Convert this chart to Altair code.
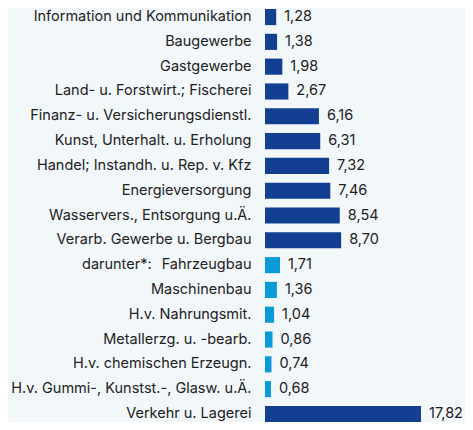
import altair as alt
import pandas as pd

categories = [
    "Information und Kommunikation",
    "Baugewerbe",
    "Gastgewerbe",
    "Land- u. Forstwirt.; Fischerei",
    "Finanz- u. Versicherungsdienstl.",
    "Kunst, Unterhalt. u. Erholung",
    "Handel; Instandh. u. Rep. v. Kfz",
    "Energieversorgung",
    "Wasservers., Entsorgung u.Ä.",
    "Verarb. Gewerbe u. Bergbau",
    "Fahrzeugbau",
    "Maschinenbau",
    "H.v. Nahrungsmit.",
    "Metallerzg. u. -bearb.",
    "H.v. chemischen Erzeugn.",
    "H.v. Gummi-, Kunstst.-, Glasw. u.Ä.",
    "Verkehr u. Lagerei",
]
values = [1.28, 1.38, 1.98, 2.67, 6.16, 6.31, 7.32, 7.46, 8.54, 8.70,
          1.71, 1.36, 1.04, 0.86, 0.74, 0.68, 17.82]
groups = ["main"] * 10 + ["sub"] * 6 + ["main"]

df = pd.DataFrame({"cat": categories, "value": values, "group": groups})
df["label"] = df["value"].map(lambda v: f"{v:.2f}".replace(".", ","))

FONT = "Inter"
TEXT = "#222222"

y = alt.Y("cat:N", sort=categories, title=None,
          scale=alt.Scale(paddingInner=0.35, paddingOuter=0),
          axis=alt.Axis(ticks=False, domain=False, labelFontSize=14.5,
                        labelFont=FONT, labelColor=TEXT, labelPadding=14,
                        labelLimit=0))
x = alt.X("value:Q", title=None, axis=None,
          scale=alt.Scale(domain=[0, 17.82], nice=False, zero=True))

bars = alt.Chart(df).mark_bar().encode(
    x=x, y=y,
    color=alt.Color("group:N", legend=None,
                    scale=alt.Scale(domain=["main", "sub"],
                                    range=["#123f91", "#0a9ad8"])),
)
labels = alt.Chart(df).mark_text(
    align="left", baseline="middle", dx=8, fontSize=14.5, font=FONT, color=TEXT
).encode(x=x, y=y, text="label:N")

note = alt.Chart(pd.DataFrame({"cat": ["Fahrzeugbau"], "t": ["darunter*:"]})).mark_text(
    align="left", baseline="middle", fontSize=14.5, font=FONT, color=TEXT
).encode(x=alt.value(-183), y=alt.Y("cat:N", sort=categories), text="t:N")

chart = (bars + labels + note).properties(
    width=156, height=413,
    autosize=alt.AutoSizeParams(type="none"),
    padding={"left": 257, "top": 1, "right": 44, "bottom": 0},
    background="#f2f7fa",
).configure_view(stroke=None)

chart.save("out.html", embed_options={"renderer": "svg", "actions": False})
